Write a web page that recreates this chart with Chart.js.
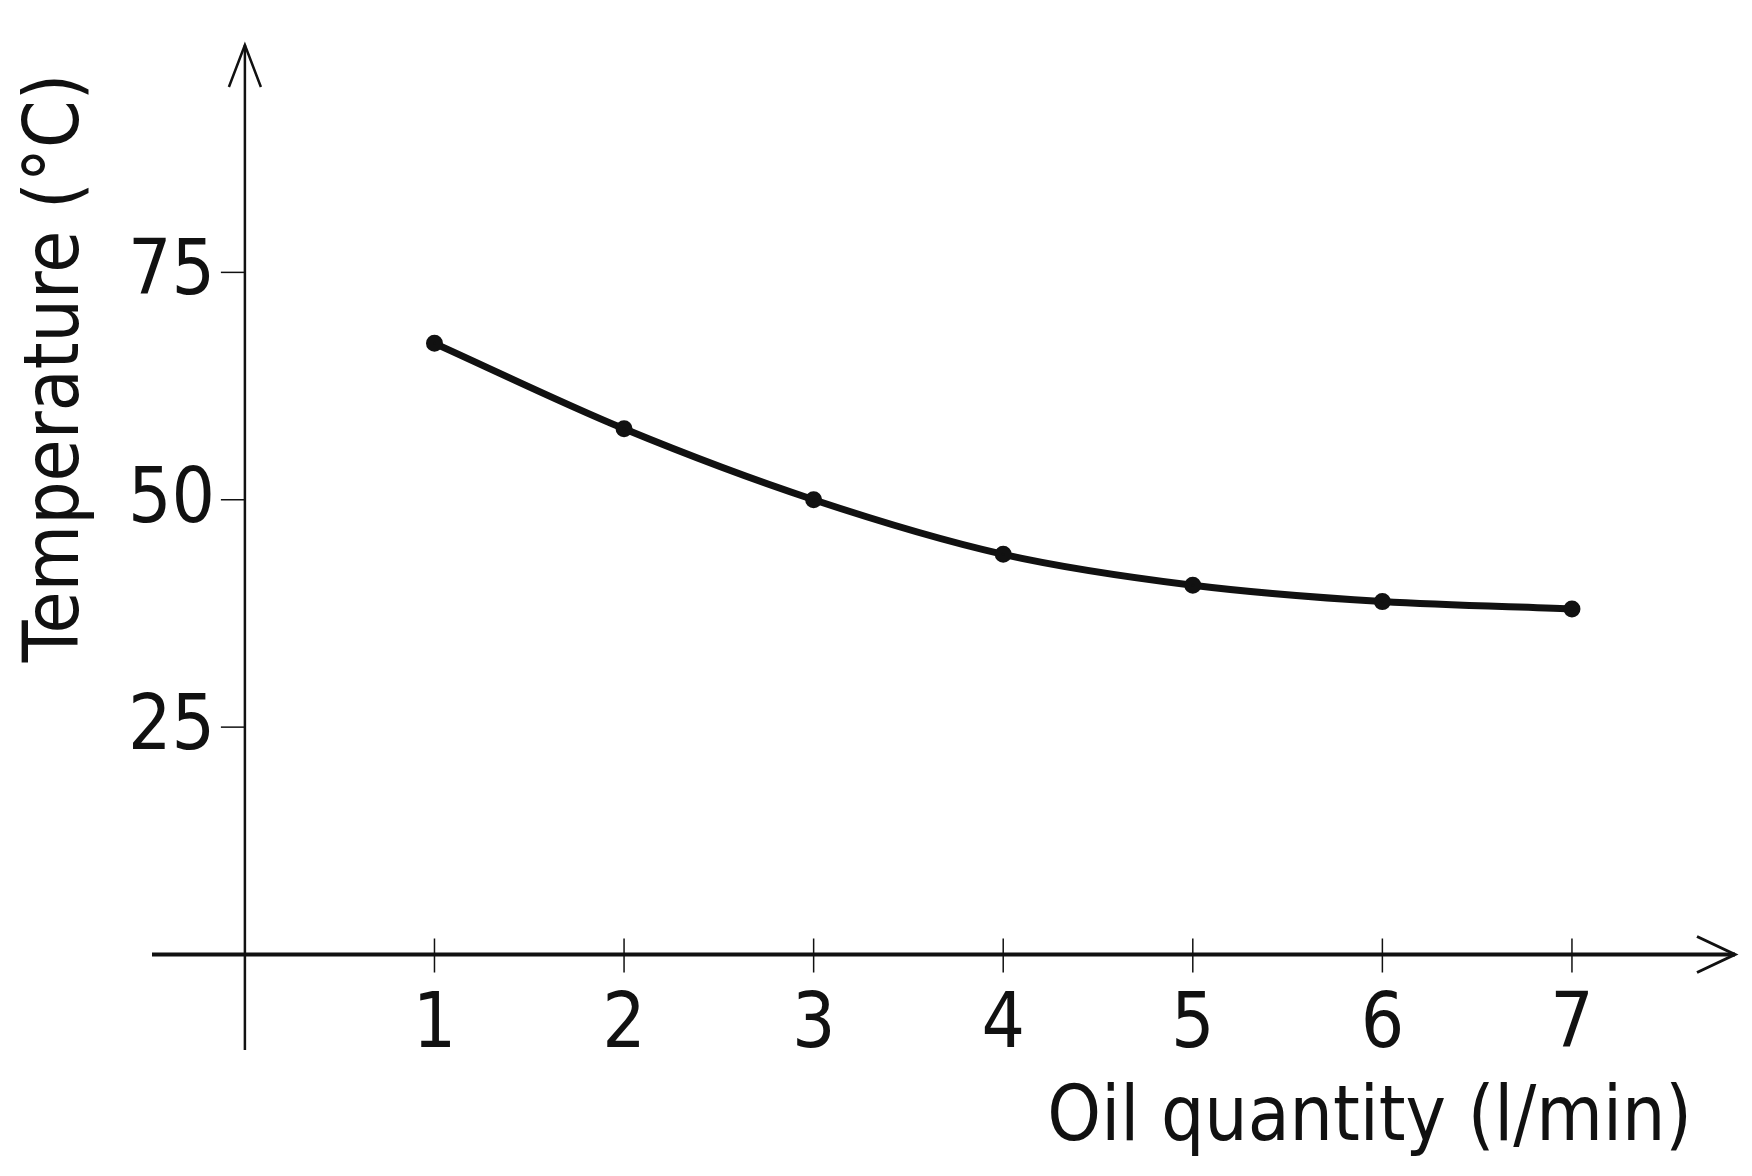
<!DOCTYPE html>
<html><head><meta charset="utf-8">
<script src="https://cdn.jsdelivr.net/npm/chart.js@4"></script>
<style>html,body{margin:0;padding:0;background:#fff}#wrap{width:1752px;height:1176px}</style>
</head><body><div id="wrap"><canvas id="c"></canvas></div>
<script>
const oilQuantity = [1, 2, 3, 4, 5, 6, 7];
const temperature = [67.2, 57.8, 50, 44, 40.6, 38.8, 38];
const xTickLabels = [1, 2, 3, 4, 5, 6, 7];
const yTickLabels = [25, 50, 75];
const xTitle = 'Oil quantity (l/min)';
const yTitle = 'Temperature (°C)';

const axesPlugin = {
  id: 'axes',
  afterDatasetsDraw(chart) {
    const ctx = chart.ctx, xs = chart.scales.x, ys = chart.scales.y;
    const x0 = xs.getPixelForValue(0), y0 = ys.getPixelForValue(0);
    const L = chart.chartArea;
    ctx.save();
    ctx.strokeStyle = '#111'; ctx.fillStyle = '#111';
    ctx.lineWidth = 4;
    ctx.beginPath(); ctx.moveTo(L.left, y0); ctx.lineTo(L.right, y0); ctx.stroke();
    ctx.lineWidth = 3;
    ctx.beginPath(); ctx.moveTo(L.right - 38, y0 - 18); ctx.lineTo(L.right, y0); ctx.lineTo(L.right - 38, y0 + 18); ctx.stroke();
    ctx.lineWidth = 2.5;
    ctx.beginPath(); ctx.moveTo(x0, L.bottom); ctx.lineTo(x0, L.top); ctx.stroke();
    ctx.beginPath(); ctx.moveTo(x0 - 16, L.top + 42); ctx.lineTo(x0, L.top); ctx.lineTo(x0 + 16, L.top + 42); ctx.stroke();
    ctx.lineWidth = 1.5;
    ctx.font = '76px "DejaVu Sans Condensed"';
    ctx.textAlign = 'center'; ctx.textBaseline = 'alphabetic';
    xTickLabels.forEach(v => {
      const p = xs.getPixelForValue(v);
      ctx.beginPath(); ctx.moveTo(p, y0 - 16); ctx.lineTo(p, y0 + 18); ctx.stroke();
      ctx.fillText(String(v), p, y0 + 92);
    });
    ctx.textAlign = 'right'; ctx.textBaseline = 'middle';
    yTickLabels.forEach(v => {
      const p = ys.getPixelForValue(v);
      ctx.beginPath(); ctx.moveTo(x0 - 24, p); ctx.lineTo(x0, p); ctx.stroke();
      ctx.fillText(String(v), x0 - 30, p + 2);
    });
    ctx.textAlign = 'right'; ctx.textBaseline = 'alphabetic';
    ctx.fillText(xTitle, 1692, 1140);
    ctx.translate(78, 368); ctx.rotate(-Math.PI / 2);
    ctx.textAlign = 'center';
    ctx.fillText(yTitle, 0, 0);
    ctx.restore();
  }
};

new Chart(document.getElementById('c'), {
  type: 'line',
  data: { datasets: [{
    data: oilQuantity.map((x, i) => ({ x, y: temperature[i] })),
    borderColor: '#111', backgroundColor: '#111', borderWidth: 7,
    pointRadius: 5, pointBackgroundColor: '#111', cubicInterpolationMode: 'monotone'
  }]},
  options: {
    responsive: true, maintainAspectRatio: false, animation: false,
    layout: { padding: { left: 152, right: 17, top: 45, bottom: 126 } },
    plugins: { legend: { display: false }, tooltip: { enabled: false } },
    scales: {
      x: { type: 'linear', min: -0.49, max: 7.86, display: false },
      y: { type: 'linear', min: -10.5, max: 100, display: false }
    }
  },
  plugins: [axesPlugin]
});
</script></body></html>
